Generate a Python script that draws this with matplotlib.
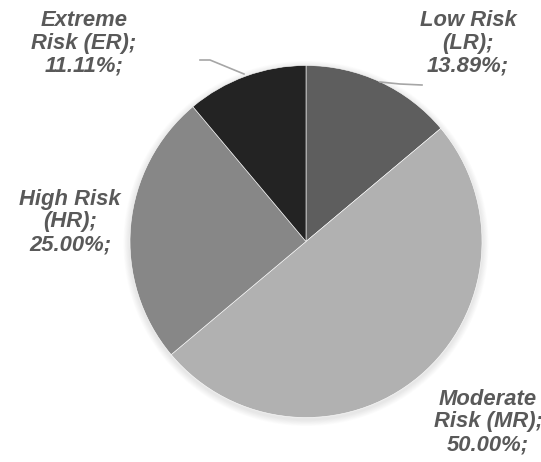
import matplotlib.pyplot as plt
import numpy as np

labels = ["Low Risk\n(LR);", "Moderate\nRisk (MR);", "High Risk\n(HR);", "Extreme\nRisk (ER);"]
shares = [13.89, 50.00, 25.00, 11.11]
colors = ["#5e5e5e", "#b1b1b1", "#878787", "#232323"]

W, H = 541, 462
cx, cy, r = 306, H - 241.5, 176

fig = plt.figure(figsize=(W / 100, H / 100), dpi=100)
ax = fig.add_axes([0, 0, 1, 1])

# soft shadow
for k in range(8):
    ax.add_patch(plt.Circle((cx, cy - 2), r + 1 + k * 0.8, color="black",
                            alpha=0.012, zorder=0, lw=0))

ax.pie(shares, colors=colors, startangle=90, counterclock=False,
       center=(cx, cy), radius=r, frame=True,
       wedgeprops=dict(edgecolor="white", linewidth=0.4))
ax.set_xlim(0, W)
ax.set_ylim(0, H)
ax.set_aspect("equal")
ax.axis("off")

text_pos = [(468, 43), (488, 422), (70, 222), (84, 43)]
for lab, val, (tx, ty) in zip(labels, shares, text_pos):
    ax.text(tx, H - ty, f"{lab}\n{val:.2f}%;", ha="center", va="center",
            fontsize=15.8, fontweight="bold", fontstyle="italic",
            color="#595959", family="Liberation Sans", linespacing=1.1)

# leader lines
ax.plot([380, 400, 422], [H - 82, H - 84, H - 85], color="#a6a6a6", lw=1.2)
ax.plot([200, 210, 244], [H - 60, H - 60, H - 74], color="#a6a6a6", lw=1.2)

fig.savefig("out.png", dpi=100)
